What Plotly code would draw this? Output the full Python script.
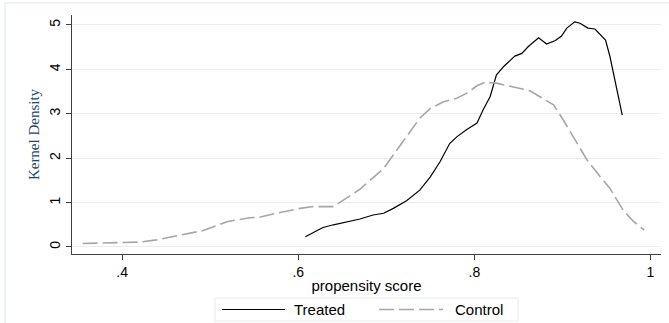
import plotly.graph_objects as go

# Kernel density estimates
treated_x = [0.608, 0.628, 0.640, 0.659, 0.670, 0.685, 0.697, 0.708, 0.723, 0.738, 0.750,
             0.761, 0.772, 0.780, 0.791, 0.803, 0.810, 0.818, 0.825, 0.833, 0.846, 0.854,
             0.861, 0.873, 0.882, 0.892, 0.899, 0.905, 0.914, 0.920, 0.929, 0.937, 0.949,
             0.954, 0.960, 0.968]
treated_y = [0.23, 0.44, 0.50, 0.59, 0.63, 0.72, 0.76, 0.87, 1.04, 1.28, 1.58,
             1.92, 2.33, 2.48, 2.64, 2.79, 3.09, 3.39, 3.87, 4.06, 4.30, 4.36,
             4.51, 4.71, 4.57, 4.65, 4.75, 4.93, 5.07, 5.04, 4.93, 4.91, 4.66,
             4.29, 3.69, 2.97]

control_x = [0.355, 0.377, 0.401, 0.420, 0.439, 0.466, 0.492, 0.519, 0.545, 0.556, 0.575,
             0.602, 0.617, 0.640, 0.647, 0.670, 0.697, 0.708, 0.723, 0.738, 0.750, 0.765,
             0.780, 0.791, 0.803, 0.812, 0.825, 0.837, 0.852, 0.863, 0.878, 0.890, 0.901,
             0.912, 0.928, 0.943, 0.954, 0.969, 0.981, 0.993]
control_y = [0.08, 0.09, 0.11, 0.11, 0.16, 0.27, 0.37, 0.57, 0.66, 0.67, 0.76,
             0.87, 0.91, 0.91, 1.00, 1.30, 1.77, 2.07, 2.48, 2.90, 3.12, 3.27,
             3.35, 3.46, 3.63, 3.71, 3.69, 3.63, 3.57, 3.52, 3.35, 3.20, 2.86,
             2.48, 1.96, 1.58, 1.32, 0.83, 0.57, 0.38]

x_tickvals = [0.4, 0.6, 0.8, 1.0]
x_ticktext = [".4", ".6", ".8", "1"]
y_tickvals = [0, 1, 2, 3, 4, 5]
y_ticktext = ["0", "1", "2", "3", "4", "5"]
series_names = ["Treated", "Control"]

W, H = 669, 323
L, R, T, B = 72, 8, 15, 69
pw, ph = W - L - R, H - T - B


def px(x):
    return (x - L) / pw


def py(y):
    return (H - B - y) / ph


fig = go.Figure()
fig.add_trace(go.Scatter(x=treated_x, y=treated_y, mode="lines", name=series_names[0],
                         line=dict(color="black", width=1.2), showlegend=False))
fig.add_trace(go.Scatter(x=control_x, y=control_y, mode="lines", name=series_names[1],
                         line=dict(color="#a6a6a6", width=1.6, dash="15px,5px"),
                         showlegend=False))

font = "Liberation Sans, Arial, sans-serif"
fig.update_layout(
    width=W, height=H,
    margin=dict(l=L, r=R, t=T, b=B),
    paper_bgcolor="white", plot_bgcolor="white",
    font=dict(family=font, size=13, color="black"),
    xaxis=dict(range=[0.343, 1.012], tickvals=x_tickvals, ticktext=x_ticktext,
               showgrid=False, zeroline=False, showline=True, linecolor="#404040",
               linewidth=1.2, ticks="outside", ticklen=5, tickcolor="#404040",
               tickfont=dict(size=14),
               title=dict(text="propensity score", font=dict(size=15), standoff=1)),
    yaxis=dict(range=[-0.158, 5.225], tickvals=y_tickvals, ticktext=y_ticktext,
               showgrid=True, gridcolor="#e6eef0", gridwidth=1, zeroline=False,
               showline=True, linecolor="#404040", linewidth=1.2, ticks="outside",
               ticklen=5, tickcolor="#404040", tickangle=-90, tickfont=dict(size=14),
               title=dict(text="Kernel Density", standoff=4,
                          font=dict(family="Liberation Serif, Times New Roman, serif",
                                    size=15, color="#1a476f"))),
)

# outer graph-region frame
fig.add_shape(type="rect", xref="paper", yref="paper",
              x0=px(5), x1=px(690), y0=py(340), y1=py(3),
              line=dict(color="#dfe8eb", width=1), fillcolor="rgba(0,0,0,0)", layer="below")

# manual legend
lx0, lx1, ly0, ly1 = 215, 518, 298, 321
fig.add_shape(type="rect", xref="paper", yref="paper",
              x0=px(lx0), x1=px(lx1), y0=py(ly1), y1=py(ly0),
              line=dict(color="#e4ecee", width=1), fillcolor="white")
ymid = (ly0 + ly1) / 2
fig.add_shape(type="line", xref="paper", yref="paper", x0=px(222), x1=px(285),
              y0=py(ymid), y1=py(ymid), line=dict(color="black", width=1.2))
fig.add_shape(type="line", xref="paper", yref="paper", x0=px(379), x1=px(443),
              y0=py(ymid), y1=py(ymid),
              line=dict(color="#a6a6a6", width=1.6, dash="15px,5px"))
fig.add_annotation(text=series_names[0], xref="paper", yref="paper", x=px(292), y=py(ymid),
                   xanchor="left", yanchor="middle", showarrow=False, font=dict(size=15))
fig.add_annotation(text=series_names[1], xref="paper", yref="paper", x=px(453), y=py(ymid),
                   xanchor="left", yanchor="middle", showarrow=False, font=dict(size=15))

fig.write_html("out.html", config={"displayModeBar": False},
               post_script="document.body.style.margin='0px';")
